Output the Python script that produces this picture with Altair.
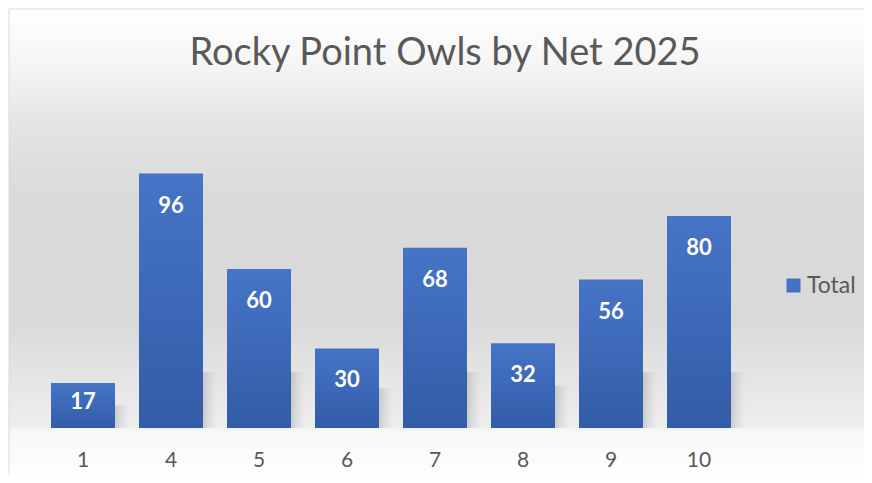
import altair as alt
import pandas as pd

nets = ['1', '4', '5', '6', '7', '8', '9', '10']
totals = [17, 96, 60, 30, 68, 32, 56, 80]
series = ['Total'] * len(nets)
title_text = ['Rocky Point Owls by Net 2025']

df = pd.DataFrame({'net': nets, 'total': totals, 'series': series})
bg_df = pd.DataFrame({'k': [0]})
title_df = pd.DataFrame({'title': title_text})

W, H = 704, 265
x_enc = alt.X('net:N', sort=None,
              scale=alt.Scale(paddingInner=0.2727, paddingOuter=0.1364),
              axis=alt.Axis(title=None, domain=False, ticks=False, tickSize=0,
                            labelAngle=0, labelFont='Lato', labelFontSize=21,
                            labelColor='#595959', labelBaseline='alphabetic',
                            labelPadding=38, grid=False, zindex=1))
y_scale = alt.Scale(domain=[0, 100], nice=False)

bg_grad = alt.Gradient(
    gradient='linear', x1=0, x2=0, y1=0, y2=1,
    stops=[
        alt.GradientStop(offset=0.0, color='#ffffff'),
        alt.GradientStop(offset=0.107, color='#f6f6f6'),
        alt.GradientStop(offset=0.254, color='#e3e3e3'),
        alt.GradientStop(offset=0.401, color='#dadada'),
        alt.GradientStop(offset=0.653, color='#d9d9d9'),
        alt.GradientStop(offset=0.779, color='#e5e5e5'),
        alt.GradientStop(offset=0.876, color='#eeeeee'),
        alt.GradientStop(offset=0.887, color='#f8f8f8'),
        alt.GradientStop(offset=1.0, color='#ffffff'),
    ])

background = alt.Chart(bg_df).mark_rect(
    fill=bg_grad, stroke='#d9d9d9', strokeWidth=1
).encode(
    x=alt.value(-30), x2=alt.value(900),
    y=alt.value(-154), y2=alt.value(322)
)

title = alt.Chart(title_df).mark_text(
    font='Lato', fontSize=38, color='#595959', align='center', baseline='alphabetic'
).encode(
    x=alt.value(406), y=alt.value(-98), text='title:N'
)

bar_grad = alt.Gradient(
    gradient='linear', x1=0, x2=0, y1=0, y2=1,
    stops=[
        alt.GradientStop(offset=0.0, color='#4674c6'),
        alt.GradientStop(offset=0.5, color='#3c68b7'),
        alt.GradientStop(offset=1.0, color='#335ca8'),
    ])

shadow_grad = alt.Gradient(
    gradient='linear', x1=0, x2=1, y1=0, y2=0,
    stops=[
        alt.GradientStop(offset=0.0, color='rgba(160,160,160,0.45)'),
        alt.GradientStop(offset=1.0, color='rgba(210,210,210,0)'),
    ])

base = alt.Chart(df)

shadows = base.transform_calculate(
    sh='min(datum.total * 0.5, 21)'
).mark_bar(width=16, xOffset=40, fill=shadow_grad).encode(
    x=x_enc,
    y=alt.Y('sh:Q', scale=y_scale, axis=None),
    y2=alt.datum(0),
)

bars = base.mark_bar(fill=bar_grad).encode(
    x=x_enc,
    y=alt.Y('total:Q', scale=y_scale, axis=None),
)

legend_layer = base.mark_bar(opacity=0).encode(
    x=x_enc,
    y=alt.Y('total:Q', scale=y_scale, axis=None),
    color=alt.Color('series:N', scale=alt.Scale(range=['#4472c4']),
                    legend=alt.Legend(title=None, orient='none', legendX=743, legendY=111,
                                      symbolType='square', symbolSize=196,
                                      symbolOpacity=1, symbolStrokeWidth=0,
                                      labelFont='Lato', labelFontSize=23,
                                      labelColor='#595959', labelOffset=2,
                                      padding=0)),
)

labels = base.transform_calculate(
    lp='max(datum.total - 11.3, datum.total * 0.62)'
).mark_text(font='Lato', fontWeight='bold', fontSize=22, color='white',
            baseline='middle', dy=2).encode(
    x=x_enc,
    y=alt.Y('lp:Q', scale=y_scale, axis=None),
    text=alt.Text('total:Q'),
)

chart = alt.layer(background, title, shadows, bars, legend_layer, labels).properties(
    width=W, height=H,
    padding={'left': 31, 'top': 155, 'right': 121, 'bottom': 47},
    autosize=alt.AutoSizeParams(type='none'),
    background='white',
).configure_view(stroke=None)

chart.save('out.html', embed_options={'renderer': 'svg', 'actions': False})
